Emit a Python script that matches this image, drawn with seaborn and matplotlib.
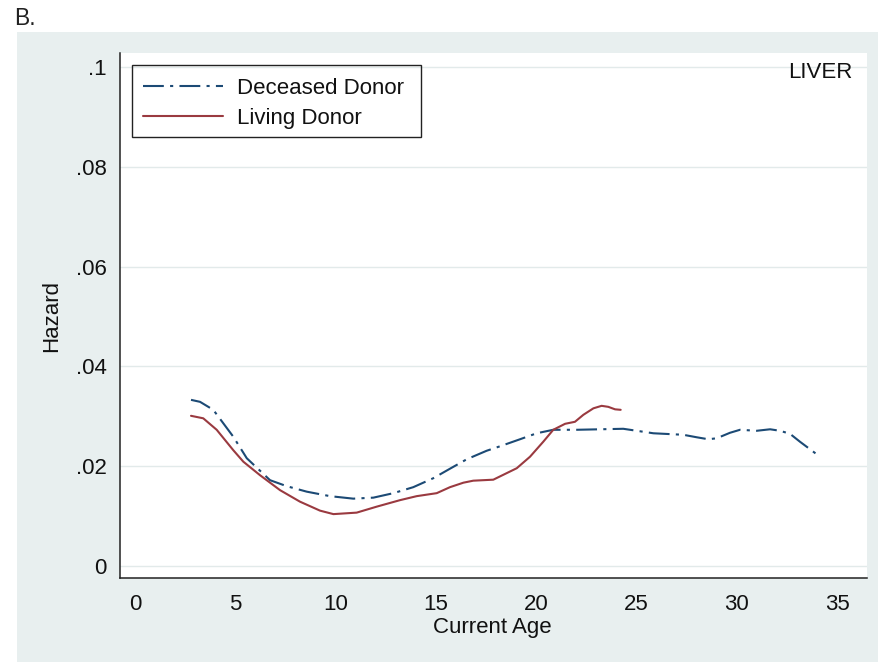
import matplotlib
matplotlib.use("Agg")
import matplotlib.pyplot as plt
from matplotlib.patches import Rectangle
import seaborn as sns
import pandas as pd

# Smoothed hazard by current age, liver recipients
deceased_age = [2.79, 3.24, 3.90, 4.90, 5.57, 6.73, 7.56, 8.56, 9.72, 10.88,
                11.88, 12.88, 13.87, 14.87, 15.70, 16.54, 17.53, 18.20, 19.19,
                20.02, 20.85, 22.02, 23.18, 24.34, 25.01, 25.84, 27.33, 28.00,
                28.58, 29.00, 29.66, 30.16, 30.99, 31.66, 32.15, 32.65, 33.15,
                33.65, 33.98]
deceased_hazard = [0.0333, 0.0329, 0.0313, 0.0259, 0.0216, 0.0172, 0.0160,
                   0.0149, 0.0140, 0.0135, 0.0137, 0.0146, 0.0158, 0.0176,
                   0.0195, 0.0214, 0.0231, 0.0240, 0.0254, 0.0266, 0.0273,
                   0.0273, 0.0274, 0.0275, 0.0271, 0.0266, 0.0263, 0.0258,
                   0.0254, 0.0256, 0.0267, 0.0273, 0.0271, 0.0274, 0.0271,
                   0.0265, 0.0249, 0.0234, 0.0224]

living_age = [2.79, 3.40, 4.07, 4.90, 5.40, 6.23, 7.23, 8.22, 9.22, 9.89,
              11.05, 12.05, 13.21, 14.04, 15.04, 15.70, 16.37, 16.86, 17.86,
              19.03, 19.69, 20.35, 20.85, 21.44, 21.93, 22.35, 22.85, 23.26,
              23.59, 23.93, 24.21]
living_hazard = [0.0301, 0.0296, 0.0273, 0.0232, 0.0209, 0.0182, 0.0152,
                 0.0129, 0.0111, 0.0104, 0.0107, 0.0119, 0.0132, 0.0140,
                 0.0146, 0.0158, 0.0167, 0.0171, 0.0173, 0.0196, 0.0219,
                 0.0249, 0.0273, 0.0285, 0.0289, 0.0303, 0.0316, 0.0321,
                 0.0319, 0.0314, 0.0313]

series_names = ["Deceased Donor", "Living Donor"]
x_ticks = [0, 5, 10, 15, 20, 25, 30, 35]
y_ticks = [0, 0.02, 0.04, 0.06, 0.08, 0.1]
y_tick_labels = ["0", ".02", ".04", ".06", ".08", ".1"]

df = pd.concat([
    pd.DataFrame({"age": deceased_age, "hazard": deceased_hazard,
                  "donor": series_names[0]}),
    pd.DataFrame({"age": living_age, "hazard": living_hazard,
                  "donor": series_names[1]}),
])

sns.set_style("white")
plt.rcParams["font.family"] = ["Liberation Sans", "DejaVu Sans"]

W, H = 879, 662
FS = 16
fig = plt.figure(figsize=(W / 100, H / 100), dpi=100, facecolor="white")

# Outer graph region in pale bluish gray
bg = "#e8efef"
fig.patches.append(Rectangle((17 / W, 0), 1 - 17 / W, 1 - 32 / H,
                             transform=fig.transFigure, facecolor=bg,
                             edgecolor="none", zorder=-10))

left, right, bottom, top = 120, 867, 578, 53
aw, ah = right - left, bottom - top
ax = fig.add_axes([left / W, 1 - bottom / H, aw / W, ah / H])
ax.set_facecolor("white")

palette = {series_names[0]: "#1c4a75", series_names[1]: "#9a3a40"}
dashes = {series_names[0]: (10, 3, 1.5, 3), series_names[1]: ""}
sns.lineplot(data=df, x="age", y="hazard", hue="donor", style="donor",
             palette=palette, dashes=dashes, linewidth=1.5, sort=False,
             estimator=None, ax=ax)

ax.set_xlim(-0.75, 36.49)
ax.set_ylim(-0.0024, 0.1028)
ax.set_xticks(x_ticks)
ax.set_xticklabels([str(t) for t in x_ticks])
ax.set_yticks(y_ticks)
ax.set_yticklabels(y_tick_labels)

for yv in y_ticks:
    ax.axhline(yv, color="#e2eaea", linewidth=1.0, zorder=0)

for s in ["top", "right"]:
    ax.spines[s].set_visible(False)
for s in ["left", "bottom"]:
    ax.spines[s].set_color("#222222")
    ax.spines[s].set_linewidth(1.1)

ax.tick_params(axis="both", direction="out", length=6.5, width=1.0,
               color="#222222", labelsize=FS, labelcolor="#111111")
ax.tick_params(axis="x", pad=5)
ax.tick_params(axis="y", pad=3)

ax.set_xlabel("Current Age", fontsize=FS, color="#111111")
ax.set_ylabel("Hazard", fontsize=FS, color="#111111")
ax.xaxis.label.set_va("center")
ax.yaxis.label.set_va("center")
ax.xaxis.set_label_coords(0.4987, (bottom - 627) / ah)
ax.yaxis.set_label_coords((52 - left) / aw, 0.5)

ax.text((853 - left) / aw, (bottom - 73) / ah, "LIVER",
        transform=ax.transAxes, ha="right", va="center",
        fontsize=FS, color="#111111")

# Legend entries, with a plain square box drawn around them
leg = ax.legend(loc="upper left",
                bbox_to_anchor=((132 - left) / aw, (bottom - 67) / ah),
                borderaxespad=0, frameon=False,
                fontsize=FS, handlelength=3.6, handletextpad=0.62,
                labelspacing=0.38, borderpad=0.5, title=None)
for t in leg.get_texts():
    t.set_color("#111111")
ax.add_patch(Rectangle(((132 - left) / aw, (bottom - 137) / ah),
                       (421 - 132) / aw, (137 - 65) / ah,
                       transform=ax.transAxes, facecolor="none",
                       edgecolor="#222222", linewidth=1.0, zorder=5))

fig.text(14 / W, 1 - 18.5 / H, "B.", ha="left", va="center",
         fontsize=16.5, color="#222222")

fig.savefig("out.png", dpi=100, facecolor="white")
